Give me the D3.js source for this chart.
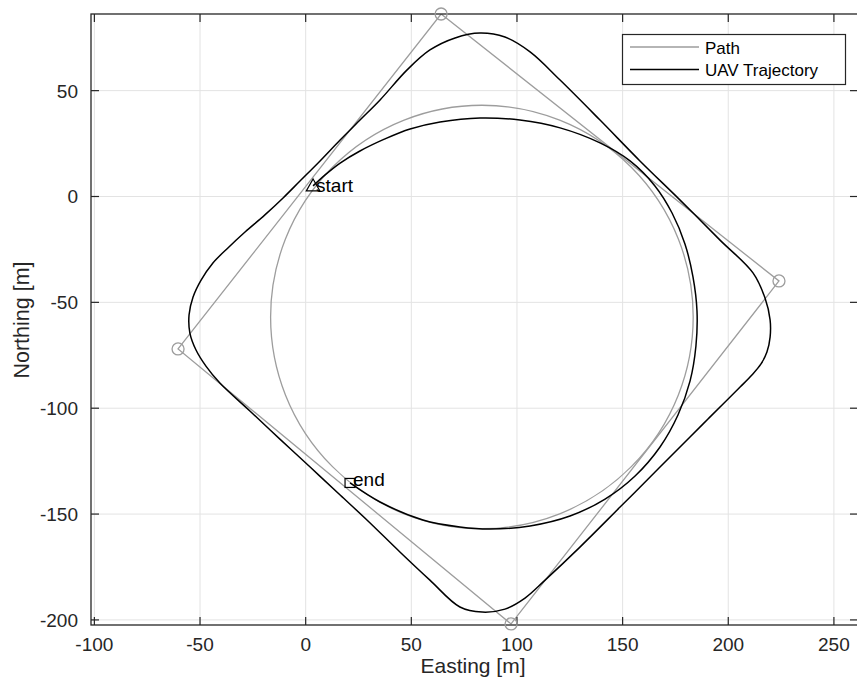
<!DOCTYPE html>
<html>
<head>
<meta charset="utf-8">
<script src="https://cdn.jsdelivr.net/npm/d3@7"></script>
<style>
  html, body { margin: 0; padding: 0; background: #fff; }
  svg { display: block; }
  text { font-family: "Liberation Sans", Arial, Helvetica, sans-serif; fill: #262626; }
</style>
</head>
<body>
<svg id="chart" width="857" height="690"></svg>
<script>
// ---------- data ----------
const xTicks = [-100, -50, 0, 50, 100, 150, 200, 250];
const yTicks = [-200, -150, -100, -50, 0, 50];

// waypoints of the path (Easting, Northing)
const waypointsX = [64.1, 224.0, 97.2, -60.4];
const waypointsY = [86.2, -39.9, -201.9, -72.0];

// orbit of the path: center and radius
const orbitCenter = [83.4, -56.9];
const orbitRadius = [100];

// UAV trajectory: waypoint-following loop
const trajOuterX = [-10.7, -2.7, 6.8, 16.3, 25.7, 35.2, 48.0, 58.8, 70.7, 82.5, 94.3, 106.2, 120.4, 139.3, 158.2, 177.2, 196.1, 211.7, 217.4, 219.8, 219.8, 218.3, 215.5, 211.2, 205.6, 198.5, 190.4, 181.9, 167.7, 148.8, 129.8, 113.3, 103.8, 94.3, 83.5, 73.0, 58.8, 44.6, 29.0, 16.3, 2.1, -12.2, -26.4, -40.6, -47.2, -51.9, -54.8, -55.2, -53.3, -49.5, -43.9, -36.8, -28.7, -19.3];
const trajOuterY = [-0.7, 7.3, 16.8, 26.7, 36.1, 45.6, 59.8, 69.2, 74.9, 77.2, 75.3, 68.3, 55.0, 36.1, 16.8, -1.7, -20.6, -36.1, -48.0, -58.3, -66.4, -73.5, -79.1, -84.3, -90.0, -97.1, -105.1, -113.6, -127.8, -146.7, -165.6, -181.2, -189.7, -194.9, -196.3, -193.9, -181.2, -167.9, -152.8, -141.0, -127.8, -114.6, -101.3, -88.1, -80.1, -72.5, -64.5, -56.0, -47.5, -39.5, -31.4, -24.3, -16.8, -8.7];

// UAV trajectory: orbit-following arc from start to end
const trajInnerX = [3.5, 9.2, 16.3, 25.7, 37.5, 49.4, 63.6, 82.5, 101.4, 120.4, 139.3, 153.5, 165.3, 173.4, 179.5, 183.3, 185.2, 184.7, 181.9, 176.2, 167.7, 155.9, 141.7, 125.1, 106.2, 87.2, 73.0, 55.5, 35.2, 21.0];
const trajInnerY = [5.0, 10.2, 15.8, 21.5, 27.2, 31.9, 35.2, 37.1, 36.1, 32.4, 25.3, 16.8, 5.0, -7.8, -22.4, -38.0, -54.1, -70.6, -87.2, -103.2, -118.3, -132.0, -142.9, -150.9, -155.6, -157.1, -156.1, -152.8, -144.3, -135.3];

const startPt = [3.5, 5.0];
const endPt = [21.0, -135.3];
const seriesNames = ["Path", "UAV Trajectory"];
const annotations = ["start", "end"];

// ---------- layout ----------
const L = 91, R = 858, T = 14, B = 625;
const axisColor = "#262626", gridColor = "#e3e3e3", pathColor = "#9d9d9d";

const svg = d3.select("#chart");
const x = d3.scaleLinear().domain([-101.6, 261.4]).range([L, R]);
const y = d3.scaleLinear().domain([-202.4, 86.2]).range([B, T]);

svg.append("defs").append("clipPath").attr("id", "clip")
  .append("rect").attr("x", L).attr("y", T).attr("width", R - L).attr("height", B - T);

// grid
const grid = svg.append("g");
grid.selectAll(".gx").data(xTicks).join("line")
  .attr("x1", d => x(d)).attr("x2", d => x(d)).attr("y1", T).attr("y2", B)
  .attr("stroke", gridColor).attr("stroke-width", 1);
grid.selectAll(".gy").data(yTicks).join("line")
  .attr("y1", d => y(d)).attr("y2", d => y(d)).attr("x1", L).attr("x2", R)
  .attr("stroke", gridColor).attr("stroke-width", 1);

// plot content
const plot = svg.append("g").attr("clip-path", "url(#clip)");

// path: waypoint polygon
const wp = waypointsX.map((d, i) => [d, waypointsY[i]]);
const lineGen = d3.line().x(d => x(d[0])).y(d => y(d[1]));
plot.append("path").datum(wp.concat([wp[0]]))
  .attr("d", lineGen).attr("fill", "none").attr("stroke", pathColor).attr("stroke-width", 1.3);
// path: orbit
plot.append("ellipse")
  .attr("cx", x(orbitCenter[0])).attr("cy", y(orbitCenter[1]))
  .attr("rx", x(orbitCenter[0] + orbitRadius[0]) - x(orbitCenter[0]))
  .attr("ry", y(orbitCenter[1]) - y(orbitCenter[1] + orbitRadius[0]))
  .attr("fill", "none").attr("stroke", pathColor).attr("stroke-width", 1.3);

// trajectory
const outer = trajOuterX.map((d, i) => [d, trajOuterY[i]]);
const inner = trajInnerX.map((d, i) => [d, trajInnerY[i]]);
plot.append("path").datum(outer)
  .attr("d", d3.line().x(d => x(d[0])).y(d => y(d[1])).curve(d3.curveCatmullRomClosed.alpha(0.5)))
  .attr("fill", "none").attr("stroke", "#000").attr("stroke-width", 1.5);
plot.append("path").datum(inner)
  .attr("d", d3.line().x(d => x(d[0])).y(d => y(d[1])).curve(d3.curveCatmullRom.alpha(0.5)))
  .attr("fill", "none").attr("stroke", "#000").attr("stroke-width", 1.5);

// axes box
svg.append("rect").attr("x", L).attr("y", T).attr("width", R - L).attr("height", B - T)
  .attr("fill", "none").attr("stroke", axisColor).attr("stroke-width", 1.3);

// ticks (inward, all sides)
const tk = 8;
const ticks = svg.append("g").attr("stroke", axisColor).attr("stroke-width", 1.2);
xTicks.forEach(v => {
  ticks.append("line").attr("x1", x(v)).attr("x2", x(v)).attr("y1", B).attr("y2", B - tk);
  ticks.append("line").attr("x1", x(v)).attr("x2", x(v)).attr("y1", T).attr("y2", T + tk);
});
yTicks.forEach(v => {
  ticks.append("line").attr("y1", y(v)).attr("y2", y(v)).attr("x1", L).attr("x2", L + tk);
  ticks.append("line").attr("y1", y(v)).attr("y2", y(v)).attr("x1", R).attr("x2", R - tk);
});

// waypoint markers (not clipped)
svg.append("g").selectAll("circle").data(wp).join("circle")
  .attr("cx", d => x(d[0])).attr("cy", d => y(d[1])).attr("r", 6)
  .attr("fill", "none").attr("stroke", pathColor).attr("stroke-width", 1.3);

// start / end markers
svg.append("path").attr("d", d3.symbol(d3.symbolTriangle, 80)())
  .attr("transform", `translate(${x(startPt[0])},${y(startPt[1]) + 1})`)
  .attr("fill", "none").attr("stroke", "#000").attr("stroke-width", 1.2);
svg.append("rect")
  .attr("x", x(endPt[0]) - 5).attr("y", y(endPt[1]) - 4.5).attr("width", 10).attr("height", 9)
  .attr("fill", "none").attr("stroke", "#000").attr("stroke-width", 1.2);
svg.append("text").attr("x", x(startPt[0]) + 3).attr("y", y(startPt[1]) + 6)
  .attr("font-size", 19).style("fill", "#000").text(annotations[0]);
svg.append("text").attr("x", x(endPt[0]) + 3).attr("y", y(endPt[1]) + 3)
  .attr("font-size", 19).style("fill", "#000").text(annotations[1]);

// tick labels
svg.append("g").selectAll("text").data(xTicks).join("text")
  .attr("x", d => x(d)).attr("y", 651).attr("text-anchor", "middle")
  .attr("font-size", 19).text(d => String(d));
svg.append("g").selectAll("text").data(yTicks).join("text")
  .attr("x", 78).attr("y", d => y(d) + 7).attr("text-anchor", "end")
  .attr("font-size", 19).text(d => String(d));

// axis labels
svg.append("text").attr("x", 473).attr("y", 673).attr("text-anchor", "middle")
  .attr("font-size", 21).text("Easting [m]");
svg.append("text").attr("transform", "translate(29,320) rotate(-90)").attr("text-anchor", "middle")
  .attr("font-size", 21.5).text("Northing [m]");

// legend
const lg = svg.append("g");
lg.append("rect").attr("x", 622.5).attr("y", 34.5).attr("width", 223).attr("height", 50)
  .attr("fill", "#fff").attr("stroke", axisColor).attr("stroke-width", 1.2);
const lgColors = [pathColor, "#000"];
const lgY = [47, 69.5];
seriesNames.forEach((name, i) => {
  lg.append("line").attr("x1", 630).attr("x2", 699).attr("y1", lgY[i]).attr("y2", lgY[i])
    .attr("stroke", lgColors[i]).attr("stroke-width", i ? 1.5 : 1.3);
  lg.append("text").attr("x", 705).attr("y", lgY[i] + 6.5).attr("font-size", 17)
    .style("fill", "#000").text(name);
});
</script>
</body>
</html>
